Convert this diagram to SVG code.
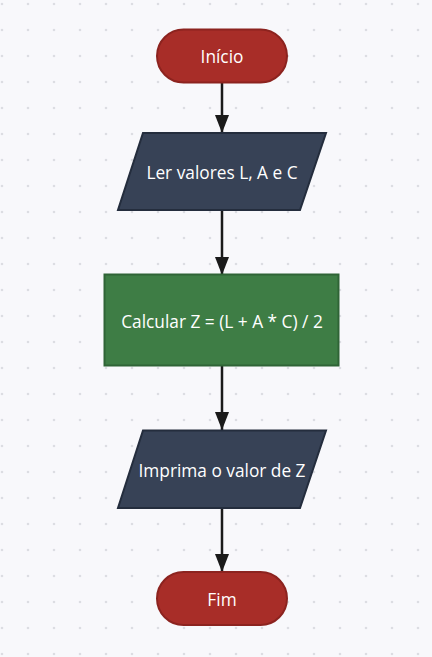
<svg xmlns="http://www.w3.org/2000/svg" width="432" height="657" viewBox="0 0 432 657">
<defs>
<pattern id="dots" x="0" y="0" width="26" height="26" patternUnits="userSpaceOnUse">
<circle cx="2" cy="4" r="1.3" fill="#dcdde2"/>
</pattern>
<marker id="arr" markerWidth="18" markerHeight="14" refX="18" refY="7" orient="auto" markerUnits="userSpaceOnUse">
<path d="M0,0 L18,7 L0,14 Z" fill="#1a1a1a"/>
</marker>
<style>
.t{font-family:"Open Sans","Noto Sans","Liberation Sans",sans-serif;font-size:17.3px;fill:#ffffff;text-anchor:middle;dominant-baseline:central}
.term{fill:#a82d28;stroke:#8c231f;stroke-width:2}
.io{fill:#374256;stroke:#242d3d;stroke-width:2}
.proc{fill:#3e7d45;stroke:#2f6436;stroke-width:2}
.edge{stroke:#1a1a1a;stroke-width:2.5;fill:none;marker-end:url(#arr)}
</style>
</defs>
<rect width="432" height="657" fill="#f8f8fb"/>
<rect width="432" height="657" fill="url(#dots)"/>
<g id="connectors">
<line class="edge" x1="222" y1="82" x2="222" y2="133"/>
<line class="edge" x1="222" y1="210" x2="222" y2="275"/>
<line class="edge" x1="222" y1="366" x2="222" y2="430"/>
<line class="edge" x1="222" y1="508" x2="222" y2="572"/>
</g>
<g id="inicio">
<rect class="term" x="157" y="29.5" width="130" height="53" rx="26.5"/>
<text class="t" x="222" y="56">Início</text>
</g>
<g id="ler">
<polygon class="io" points="143,133 326,133 300,210 118,210"/>
<text class="t" x="222" y="172">Ler valores L, A e C</text>
</g>
<g id="calcular">
<rect class="proc" x="104.5" y="274.5" width="234" height="91"/>
<text class="t" x="222" y="321">Calcular Z = (L + A * C) / 2</text>
</g>
<g id="imprima">
<polygon class="io" points="143,430.5 326,430.5 300,508 118,508"/>
<text class="t" x="222" y="470">Imprima o valor de Z</text>
</g>
<g id="fim">
<rect class="term" x="157" y="572" width="130" height="53" rx="26.5"/>
<text class="t" x="222" y="599">Fim</text>
</g>
</svg>
